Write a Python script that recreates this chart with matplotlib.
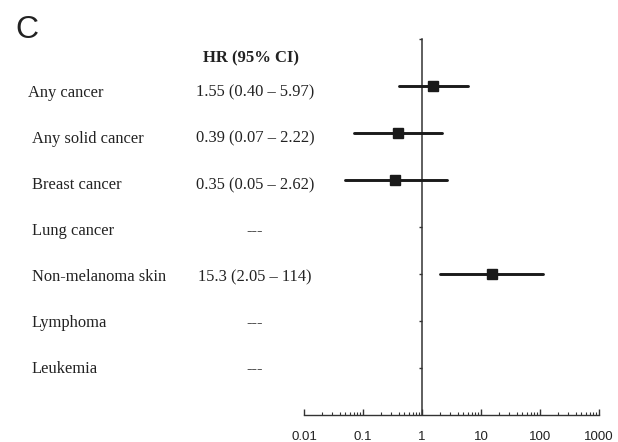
import numpy as np
import matplotlib
matplotlib.use("Agg")
import matplotlib.pyplot as plt
from matplotlib.ticker import FixedLocator, FixedFormatter, LogLocator, NullFormatter

# ---- data ----
labels = ["Any cancer", "Any solid cancer", "Breast cancer", "Lung cancer",
          "Non-melanoma skin", "Lymphoma", "Leukemia"]
hr = [1.55, 0.39, 0.35, np.nan, 15.3, np.nan, np.nan]
ci_low = [0.40, 0.07, 0.05, np.nan, 2.05, np.nan, np.nan]
ci_high = [5.97, 2.22, 2.62, np.nan, 114, np.nan, np.nan]
ci_text = ["1.55 (0.40 \u2013 5.97)", "0.39 (0.07 \u2013 2.22)", "0.35 (0.05 \u2013 2.62)",
           "---", "15.3 (2.05 \u2013 114)", "---", "---"]
header = "HR (95% CI)"
xticks = [0.01, 0.1, 1, 10, 100, 1000]
xticklabels = ["0.01", "0.1", "1", "10", "100", "1000"]

W, H = 618, 442
fig = plt.figure(figsize=(W / 100, H / 100), dpi=100)

def fx(px):
    return px / W

def fy(py):
    return 1 - py / H

ax_left, ax_right, ax_top, ax_bot = 304, 599, 39, 415
ax = fig.add_axes([fx(ax_left), fy(ax_bot), (ax_right - ax_left) / W, (ax_bot - ax_top) / H])
ax.set_xscale("log")
ax.set_xlim(0.01, 1000)
ax.set_ylim(8, 0)
ax.patch.set_alpha(0)

ink = "#1a1a1a"
for i in range(len(labels)):
    y = i + 1
    if np.isnan(hr[i]):
        continue
    ax.plot([ci_low[i], ci_high[i]], [y, y], color=ink, lw=2.1,
            solid_capstyle="round", clip_on=False, zorder=3)
    ax.plot([hr[i]], [y], marker="s", ms=7.8, color=ink, mec=ink, clip_on=False, zorder=4)

for s in ["top", "right"]:
    ax.spines[s].set_visible(False)
ax.spines["left"].set_position(("data", 1))
ax.spines["left"].set_color("#333333")
ax.spines["left"].set_linewidth(1.1)
ax.spines["bottom"].set_color("#333333")
ax.spines["bottom"].set_linewidth(1.0)

ax.yaxis.set_major_locator(FixedLocator(list(range(0, 8))))
ax.yaxis.set_major_formatter(NullFormatter())
ax.tick_params(axis="y", direction="out", length=2.5, width=1, color="#333333")

ax.xaxis.set_major_locator(FixedLocator(xticks))
ax.xaxis.set_major_formatter(FixedFormatter(xticklabels))
ax.xaxis.set_minor_locator(LogLocator(base=10, subs=np.arange(2, 10), numticks=20))
ax.xaxis.set_minor_formatter(NullFormatter())
ax.tick_params(axis="x", which="major", direction="in", length=4, width=1,
               color="#333333", pad=11.5, labelsize=9.5, labelcolor="#222222")
ax.tick_params(axis="x", which="minor", direction="in", length=2, width=0.8, color="#333333")
for t in ax.get_xticklabels():
    t.set_family("Liberation Sans")

# ---- text ----
serif = "Liberation Serif"
fig.text(fx(15), fy(38), "C", family="Liberation Sans", fontsize=23,
         ha="left", va="baseline", color="#222222")
fig.text(fx(251), fy(62), header, family=serif, fontweight="bold", fontsize=12,
         ha="center", va="baseline", color="#222222")

label_x = [27.7] + [31.7] * (len(labels) - 1)
for i, (lab, txt) in enumerate(zip(labels, ci_text)):
    base = 96.7 + i * 46.1
    fig.text(fx(label_x[i]), fy(base), lab, family=serif, fontsize=11.9,
             ha="left", va="baseline", color="#222222")
    fig.text(fx(255), fy(base), txt, family=serif, fontsize=11.9,
             ha="center", va="baseline", color="#222222")

fig.savefig("out.png", dpi=100)
